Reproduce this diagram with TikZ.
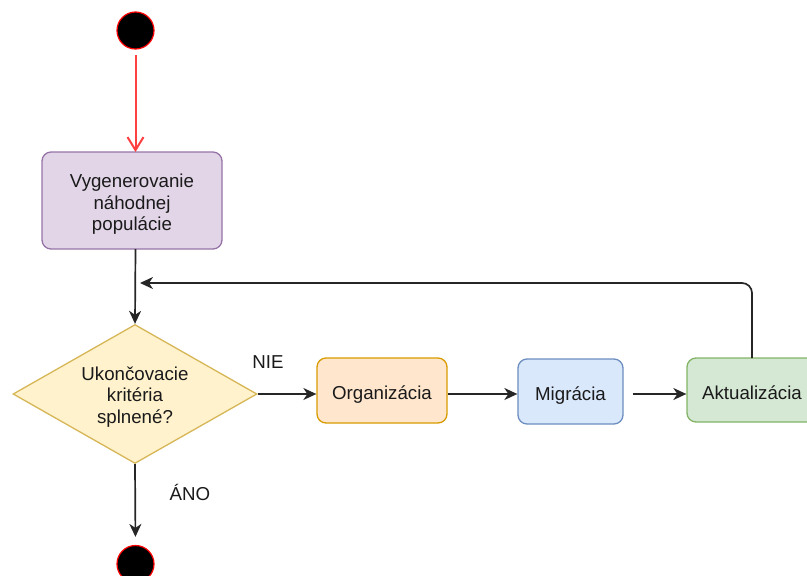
\documentclass[tikz,border=0pt]{standalone}
\usepackage{fontspec}
\setmainfont{Liberation Sans}
\usetikzlibrary{shapes.geometric,arrows.meta}

\definecolor{purpleFill}{HTML}{E1D5E7}\definecolor{purpleLine}{HTML}{9673A6}
\definecolor{yellowFill}{HTML}{FFF2CC}\definecolor{yellowLine}{HTML}{D6B656}
\definecolor{orangeFill}{HTML}{FFE6CC}\definecolor{orangeLine}{HTML}{D79B00}
\definecolor{blueFill}{HTML}{DAE8FC}\definecolor{blueLine}{HTML}{6C8EBF}
\definecolor{greenFill}{HTML}{D5E8D4}\definecolor{greenLine}{HTML}{82B366}
\definecolor{inkText}{HTML}{1A1A1A}
\definecolor{startRed}{HTML}{FF4040}

% centred block of lines, set a little below the node centre
\newcommand{\boxtext}[2][-5pt]{\raisebox{#1}[\height][\depth]{\begin{tabular}{@{}c@{}}#2\end{tabular}}}

\tikzset{
  basefont/.style={font=\fontsize{18.7}{21.5}\selectfont, text=inkText},
  statebox/.style={basefont, rectangle, rounded corners=9pt, line width=1.3pt,
    inner sep=0pt},
  endpoint/.style={circle, fill=black, draw=red, line width=1.2pt,
    minimum size=37pt, inner sep=0pt},
  decision/.style={basefont, diamond, aspect=1.755, inner sep=0pt,
    minimum width=244pt, minimum height=139pt, line width=1.3pt,
    draw=yellowLine, fill=yellowFill},
  flow/.style={draw=black!85, line width=1.7pt, -{Stealth[length=13pt,width=12pt,inset=4pt]}},
  startflow/.style={draw=startRed, line width=2pt, -{Straight Barb[length=13pt,width=16pt]}},
  lbl/.style={basefont, inner sep=0pt}
}

\begin{document}
\begin{tikzpicture}[x=1pt,y=-1pt]
\useasboundingbox (0,0) rectangle (807,576);
\clip (0,0) rectangle (807,576);

% start and end markers
\node[endpoint] (start) at (135.5,30.5) {};
\node[endpoint] (stop) at (135.5,564) {};

% process steps
\node[statebox, draw=purpleLine, fill=purpleFill, minimum width=180pt, minimum height=97pt]
  (gen) at (132,200.5) {\boxtext[-4.5pt]{Vygenerovanie\\náhodnej\\populácie}};
\node[decision] (crit) at (135,394) {\boxtext[-3.5pt]{Ukončovacie\\kritéria\\splnené?}};
\node[statebox, draw=orangeLine, fill=orangeFill, minimum width=130pt, minimum height=65pt]
  (org) at (382,390.5) {\boxtext{Organizácia}};
\node[statebox, draw=blueLine, fill=blueFill, minimum width=105pt, minimum height=65pt]
  (mig) at (570.5,391.5) {\boxtext{Migrácia}};
\node[statebox, draw=greenLine, fill=greenFill, minimum width=130pt, minimum height=64pt]
  (akt) at (752,390) {\boxtext{Aktualizácia}};

% helper points for the connectors
\coordinate (startTail) at (135.5,55);
\coordinate (genIn) at (135.5,152);
\coordinate (genOut) at (135.5,249);
\coordinate (aktOut) at (752,358);
\coordinate (loopTop) at (752,283);
\coordinate (loopEnd) at (140,283);

% connectors
\draw[startflow] (startTail) -- (genIn);
\draw[flow] (genOut) -- (crit.north);
\draw[flow] (crit.east) -- (crit.east -| org.west);
\draw[flow] (crit.east -| org.east) -- (crit.east -| mig.west);
\draw[flow, shorten <=9pt] (crit.east -| mig.east) -- (crit.east -| akt.west);
\draw[flow, rounded corners=10pt] (aktOut) -- (loopTop) -- (loopEnd);
\draw[flow, shorten >=8pt] (crit.south) -- (stop.north);

% branch labels
\node[lbl] (nie) at (268,362) {NIE};
\node[lbl] (ano) at (190,492) {ÁNO};
\end{tikzpicture}
\end{document}
